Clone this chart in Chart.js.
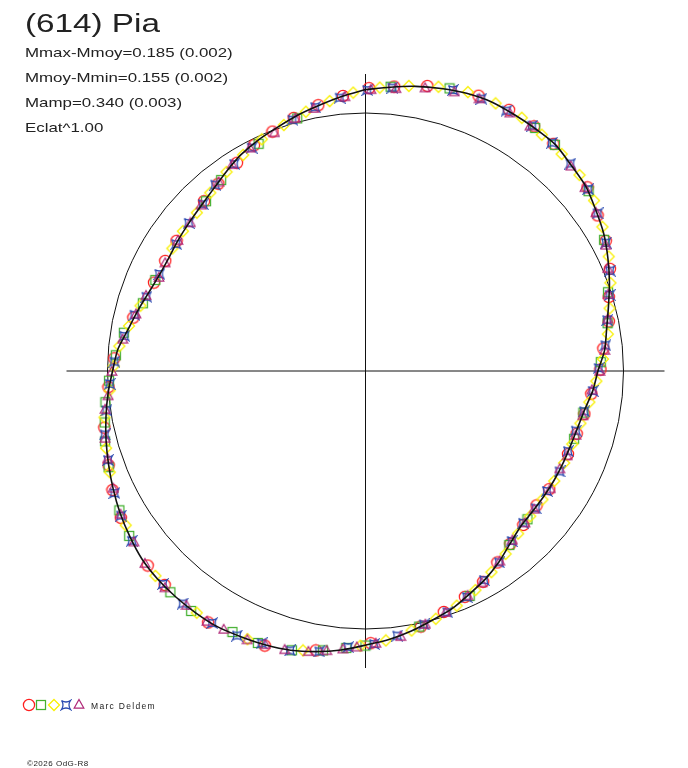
<!DOCTYPE html>
<html><head><meta charset="utf-8">
<script src="https://cdn.jsdelivr.net/npm/chart.js@4.4.1/dist/chart.umd.min.js"></script>
<style>html,body{margin:0;padding:0;background:#fff}canvas{display:block}</style>
</head><body>
<canvas id="c" width="688" height="768"></canvas>
<script>
// ---- texts ----
const titleText = "(614) Pia";
const infoLines = ["Mmax-Mmoy=0.185 (0.002)", "Mmoy-Mmin=0.155 (0.002)", "Mamp=0.340 (0.003)", "Eclat^1.00"];
const observerName = "Marc Deldem";
const copyrightText = "\u00A92026 OdG-R8";

// ---- fitted curve: phase angle (deg, clockwise from top) and magnitude deviation ----
const fitAngle = [0,5,10,15,20,25,30,35,40,45,50,55,60,65,70,75,80,85,90,95,100,105,110,115,120,125,130,135,140,145,150,155,160,165,170,175,180,185,190,195,200,205,210,215,220,225,230,235,240,245,250,255,260,265,270,275,280,285,290,295,300,305,310,315,320,325,330,335,340,345,350,355];
const fitMag = [0.102,0.117,0.135,0.150,0.163,0.170,0.167,0.165,0.163,0.143,0.128,0.100,0.074,0.041,0.007,-0.028,-0.057,-0.078,-0.111,
  -0.130,-0.154,-0.167,-0.173,-0.174,-0.174,-0.174,-0.173,-0.167,-0.143,-0.109,-0.078,-0.052,-0.022,0.000,0.026,0.050,0.070,0.096,0.117,0.135,0.146,0.154,0.163,0.163,0.161,0.157,0.148,0.130,0.111,0.089,0.067,0.046,0.024,0.002,-0.022,
  -0.041,-0.074,-0.098,-0.120,-0.133,-0.135,-0.128,-0.120,-0.109,-0.091,-0.065,-0.037,-0.015,0.004,0.028,0.050,0.076];

// ---- observation sessions (phase, magnitude deviation) ----
const redPhase = [0.002,0.016,0.034,0.062,0.080,0.096,0.110,0.140,0.156,0.171,0.187,0.203,0.218,0.235,0.249,0.266,0.281,0.296,0.312,0.341,0.356,0.373,0.389,0.404,0.419,0.434,0.450,0.466,0.497,0.528,0.556,0.589,0.620,0.634,0.664,0.680,0.694,0.716,0.740,0.758,0.786,0.813,0.830,0.846,0.879,0.894,0.912,0.927,0.941,0.956,0.972,0.987];
const redMag = [0.108,0.121,0.146,0.172,0.174,0.170,0.160,0.131,0.093,0.066,0.030,-0.016,-0.042,-0.083,-0.100,-0.135,-0.152,-0.164,-0.170,-0.172,-0.176,-0.163,-0.141,-0.111,-0.072,-0.049,-0.020,0.015,0.062,0.112,0.150,0.168,0.154,0.148,0.119,0.094,0.068,0.040,-0.002,-0.028,-0.086,-0.125,-0.128,-0.124,-0.103,-0.086,-0.058,-0.027,-0.005,0.022,0.052,0.078];

const greenPhase = [0.014,0.046,0.097,0.111,0.142,0.170,0.200,0.219,0.244,0.280,0.300,0.368,0.390,0.431,0.467,0.500,0.511,0.524,0.541,0.560,0.575,0.600,0.615,0.653,0.668,0.693,0.708,0.719,0.731,0.744,0.760,0.775,0.797,0.815,0.880,0.897,0.930,0.958];
const greenMag = [0.119,0.160,0.167,0.161,0.124,0.062,-0.013,-0.049,-0.098,-0.157,-0.168,-0.167,-0.140,-0.044,0.014,0.072,0.085,0.107,0.134,0.150,0.152,0.168,0.161,0.131,0.108,0.071,0.051,0.034,0.017,-0.006,-0.034,-0.058,-0.110,-0.126,-0.109,-0.081,-0.030,0.016];

const yellowPhase = [0.008,0.024,0.040,0.056,0.072,0.088,0.102,0.117,0.132,0.148,0.163,0.180,0.195,0.210,0.226,0.242,0.257,0.272,0.288,0.304,0.319,0.334,0.350,0.365,0.380,0.396,0.411,0.426,0.441,0.456,0.472,0.488,0.503,0.535,0.566,0.597,0.627,0.659,0.690,0.704,0.722,0.738,0.753,0.766,0.780,0.795,0.840,0.854,0.870,0.886,0.903,0.918,0.933,0.949,0.964,0.979,0.993];
const yellowMag = [0.112,0.132,0.154,0.170,0.172,0.172,0.160,0.150,0.140,0.118,0.084,0.047,0.010,-0.026,-0.056,-0.088,-0.117,-0.139,-0.160,-0.168,-0.170,-0.172,-0.171,-0.167,-0.152,-0.120,-0.090,-0.056,-0.027,-0.002,0.024,0.053,0.073,0.123,0.152,0.160,0.154,0.118,0.074,0.055,0.031,-0.006,-0.026,-0.046,-0.075,-0.103,-0.127,-0.122,-0.116,-0.094,-0.066,-0.042,-0.018,0.005,0.035,0.062,0.090];

const bluePhase = [0.001,0.015,0.048,0.064,0.079,0.095,0.109,0.124,0.141,0.155,0.172,0.188,0.202,0.217,0.233,0.248,0.264,0.279,0.294,0.310,0.326,0.343,0.358,0.372,0.387,0.403,0.418,0.433,0.448,0.464,0.481,0.495,0.510,0.526,0.542,0.558,0.572,0.587,0.606,0.621,0.650,0.665,0.678,0.697,0.712,0.726,0.742,0.756,0.773,0.788,0.802,0.820,0.844,0.861,0.877,0.892,0.910,0.925,0.955,0.970,0.985];
const blueMag = [0.100,0.116,0.158,0.165,0.166,0.168,0.160,0.146,0.128,0.098,0.063,0.027,-0.010,-0.048,-0.073,-0.108,-0.130,-0.155,-0.171,-0.175,-0.172,-0.176,-0.171,-0.170,-0.147,-0.107,-0.077,-0.045,-0.014,0.009,0.037,0.066,0.081,0.114,0.137,0.145,0.157,0.161,0.164,0.156,0.134,0.113,0.092,0.063,0.045,0.018,-0.008,-0.029,-0.062,-0.088,-0.116,-0.131,-0.131,-0.119,-0.109,-0.081,-0.056,-0.032,0.016,0.046,0.072];

const purplePhase = [0.003,0.017,0.033,0.049,0.063,0.081,0.094,0.125,0.139,0.154,0.173,0.186,0.201,0.216,0.236,0.250,0.263,0.282,0.297,0.313,0.324,0.340,0.359,0.371,0.386,0.402,0.420,0.432,0.449,0.463,0.479,0.494,0.505,0.513,0.522,0.532,0.545,0.556,0.566,0.580,0.590,0.604,0.619,0.636,0.649,0.666,0.681,0.698,0.710,0.727,0.735,0.750,0.771,0.789,0.803,0.818,0.829,0.847,0.862,0.876,0.895,0.909,0.924,0.942,0.957,0.969,0.988];
const purpleMag = [0.104,0.115,0.138,0.154,0.163,0.165,0.163,0.141,0.123,0.095,0.058,0.022,-0.014,-0.044,-0.078,-0.104,-0.134,-0.158,-0.167,-0.171,-0.177,-0.170,-0.175,-0.166,-0.149,-0.112,-0.073,-0.050,-0.018,0.008,0.041,0.061,0.077,0.089,0.104,0.121,0.138,0.143,0.153,0.158,0.165,0.159,0.161,0.150,0.129,0.111,0.087,0.062,0.047,0.022,0.002,-0.019,-0.057,-0.093,-0.112,-0.135,-0.131,-0.127,-0.123,-0.105,-0.080,-0.052,-0.028,-0.011,0.020,0.044,0.076];

// ---- polar mapping ----
const R0 = 258;   // radius of the reference (mean) circle
const K = 230;    // radial units per magnitude
const axisHalfX = 299, axisHalfY = 297;

function polar(phase, mag) {
  const r = R0 + K * mag;
  const a = 2 * Math.PI * phase;
  return { x: r * Math.sin(a), y: r * Math.cos(a) };
}
function series(ph, mg) { return ph.map((p, i) => polar(p, mg[i])); }

const fitPts = fitAngle.map((a, i) => polar(a / 360, fitMag[i]));
fitPts.push(fitPts[0]);

// ---- marker images ----
function marker(size, draw) {
  const c = document.createElement('canvas');
  c.width = size; c.height = size;
  const g = c.getContext('2d');
  g.lineWidth = 1.25;
  draw(g);
  return c;
}
const RED = '#ff1e1e', GREEN = '#44b030', YELLOW = '#f8f000', BLUE = '#2848b0', PURPLE = '#b02878';
const mCircle = marker(14, g => { g.strokeStyle = RED; g.beginPath(); g.arc(7, 7, 5.6, 0, 2 * Math.PI); g.stroke(); });
const mSquare = marker(12, g => { g.strokeStyle = GREEN; g.strokeRect(1.5, 1.5, 9, 9); });
const mDiamond = marker(14, g => { g.strokeStyle = YELLOW; g.beginPath(); g.moveTo(7, 1.5); g.lineTo(12.5, 7); g.lineTo(7, 12.5); g.lineTo(1.5, 7); g.closePath(); g.stroke(); });
const mStar = marker(12, g => { g.strokeStyle = BLUE; g.beginPath(); g.moveTo(1.5, 1.5); g.quadraticCurveTo(6, 4.5, 10.5, 1.5); g.quadraticCurveTo(7.5, 6, 10.5, 10.5); g.quadraticCurveTo(6, 7.5, 1.5, 10.5); g.quadraticCurveTo(4.5, 6, 1.5, 1.5); g.stroke(); });
const mTriangle = marker(12, g => { g.strokeStyle = PURPLE; g.beginPath(); g.moveTo(6, 1.5); g.lineTo(10.8, 10); g.lineTo(1.2, 10); g.closePath(); g.stroke(); });

function ptSet(label, ph, mg, img, order) {
  return { label, data: series(ph, mg), pointStyle: img, pointRadius: 5, showLine: false, order };
}

const decor = {
  id: 'decor',
  beforeDatasetsDraw(chart) {
    const ctx = chart.ctx, xs = chart.scales.x, ys = chart.scales.y;
    const cx = xs.getPixelForValue(0), cy = ys.getPixelForValue(0);
    const rr = xs.getPixelForValue(R0) - cx;
    ctx.save();
    ctx.strokeStyle = '#111';
    ctx.lineWidth = 1;
    ctx.beginPath();
    ctx.moveTo(xs.getPixelForValue(-axisHalfX), cy); ctx.lineTo(xs.getPixelForValue(axisHalfX), cy);
    ctx.moveTo(cx, ys.getPixelForValue(axisHalfY)); ctx.lineTo(cx, ys.getPixelForValue(-axisHalfY));
    ctx.stroke();
    ctx.beginPath();
    ctx.arc(cx, cy, rr, 0, 2 * Math.PI);
    ctx.stroke();
    ctx.restore();
  },
  afterDraw(chart) {
    const ctx = chart.ctx;
    ctx.save();
    ctx.fillStyle = '#222';
    ctx.textBaseline = 'alphabetic';
    const stretched = (t, x, y, font, sx, ls) => {
      ctx.save();
      ctx.font = font;
      ctx.letterSpacing = ls || '0px';
      ctx.translate(x, y); ctx.scale(sx, 1);
      ctx.fillText(t, 0, 0);
      ctx.restore();
    };
    stretched(titleText, 25, 32, '25px "Liberation Sans", Arial, sans-serif', 1.33);
    infoLines.forEach((t, i) => stretched(t, 25, 57 + 25 * i, '13.5px "Liberation Sans", Arial, sans-serif', 1.25));
    // legend symbols
    const syms = [[mCircle, 29, 705], [mSquare, 41, 705], [mDiamond, 53.5, 705], [mStar, 66, 705], [mTriangle, 78.5, 704]];
    syms.forEach(([img, x, y]) => ctx.drawImage(img, Math.round(x - img.width / 2), Math.round(y - img.height / 2)));
    stretched(observerName, 91, 708.5, '8.5px "Liberation Sans", Arial, sans-serif', 1, '1.3px');
    stretched(copyrightText, 27, 766, '8px "Liberation Sans", Arial, sans-serif', 1, '0.5px');
    ctx.restore();
  }
};

new Chart(document.getElementById('c'), {
  type: 'scatter',
  data: {
    datasets: [
      ptSet('red', redPhase, redMag, mCircle, 5),
      ptSet('green', greenPhase, greenMag, mSquare, 4),
      ptSet('yellow', yellowPhase, yellowMag, mDiamond, 3),
      ptSet('blue', bluePhase, blueMag, mStar, 2),
      ptSet('purple', purplePhase, purpleMag, mTriangle, 1),
      { label: 'fit', data: fitPts, showLine: true, pointRadius: 0, borderColor: '#111', borderWidth: 1.6, tension: 0.25, order: 0 }
    ]
  },
  options: {
    responsive: false,
    animation: false,
    devicePixelRatio: 1,
    layout: { padding: 0, autoPadding: false },
    plugins: { legend: { display: false }, tooltip: { enabled: false } },
    scales: {
      x: { type: 'linear', min: -365.5, max: 322.5, display: false },
      y: { type: 'linear', min: -397, max: 371, display: false }
    }
  },
  plugins: [decor]
});
</script>
</body></html>
